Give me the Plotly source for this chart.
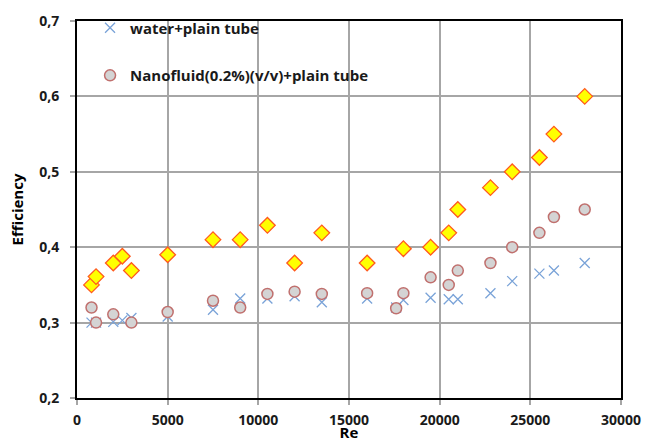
import plotly.graph_objects as go

# Reynolds numbers
re_water = [800, 1050, 2000, 2500, 3000, 5000, 7500, 9000, 10500, 12000, 13500,
            16000, 17600, 18000, 19500, 20500, 21000, 22800, 24000, 25500, 26300, 28000]
eff_water = [0.300, 0.300, 0.301, 0.303, 0.306, 0.308, 0.317, 0.332, 0.332, 0.335, 0.327,
             0.332, 0.320, 0.330, 0.333, 0.331, 0.331, 0.339, 0.355, 0.365, 0.369, 0.379]

re_nano = [800, 1050, 2000, 3000, 5000, 7500, 9000, 10500, 12000, 13500, 16000,
           17600, 18000, 19500, 20500, 21000, 22800, 24000, 25500, 26300, 28000]
eff_nano = [0.320, 0.300, 0.311, 0.300, 0.314, 0.329, 0.320, 0.338, 0.341, 0.338, 0.339,
            0.319, 0.339, 0.360, 0.350, 0.369, 0.379, 0.400, 0.419, 0.440, 0.450]

re_third = [800, 1050, 2000, 2500, 3000, 5000, 7500, 9000, 10500, 12000, 13500,
            16000, 18000, 19500, 20500, 21000, 22800, 24000, 25500, 26300, 28000]
eff_third = [0.350, 0.361, 0.379, 0.388, 0.369, 0.390, 0.410, 0.410, 0.429, 0.379, 0.419,
             0.379, 0.398, 0.400, 0.419, 0.450, 0.479, 0.500, 0.519, 0.550, 0.600]

x_ticks = [0, 5000, 10000, 15000, 20000, 25000, 30000]
y_ticks = [0.2, 0.3, 0.4, 0.5, 0.6, 0.7]

FONT = "Open Sans"

fig = go.Figure()
fig.add_trace(go.Scatter(
    x=re_water, y=eff_water, mode="markers", name="water+plain tube",
    legendgroup="a",
    marker=dict(symbol="x-thin-open", size=10, color="#7aa3d8",
                line=dict(width=1.3, color="#7aa3d8")),
))
fig.add_trace(go.Scatter(
    x=re_nano, y=eff_nano, mode="markers", name="Nanofluid(0.2%)(v/v)+plain tube",
    legendgroup="b",
    marker=dict(symbol="circle", size=11, color="#d4d4d4",
                line=dict(width=1.5, color="#c0706e")),
))
fig.add_trace(go.Scatter(
    x=re_third, y=eff_third, mode="markers", name="", showlegend=False,
    marker=dict(symbol="diamond", size=12, color="#ffff00",
                line=dict(width=1.3, color="#ff5a1e")),
))

axis_common = dict(
    showgrid=True, gridcolor="#a6a6a6", gridwidth=1.5,
    showline=True, linecolor="black", linewidth=2, mirror=True,
    ticks="outside", ticklen=5, tickcolor="#a6a6a6", tickwidth=1.5,
    zeroline=False, automargin=False,
    tickfont=dict(family=FONT, size=14, color="#1a1a1a", weight="bold"),
)

fig.update_xaxes(range=[0, 30000], tickvals=x_ticks, tickformat="d",
                 title=dict(text="<b>Re</b>", font=dict(family=FONT, size=15, color="black"),
                            standoff=0),
                 ticklabelstandoff=3, **axis_common)
fig.update_yaxes(range=[0.2, 0.7], tickvals=y_ticks, tickformat=".1f",
                 title=dict(text="<b>Efficiency</b>", font=dict(family=FONT, size=15, color="black"),
                            standoff=12),
                 ticklabelstandoff=8, **axis_common)

fig.update_layout(
    width=646, height=442,
    margin=dict(l=77, r=25, t=13, b=44),
    paper_bgcolor="white", plot_bgcolor="white",
    separators=", ",
    showlegend=True,
    legend=dict(
        x=0.024, y=1.025, xanchor="left", yanchor="top",
        bgcolor="rgba(0,0,0,0)", traceorder="grouped", tracegroupgap=25,
        font=dict(family=FONT, size=15, color="#1a1a1a", weight="bold"),
        itemwidth=30,
    ),
)

fig.write_html("out.html", config={"displayModeBar": False},
               post_script="document.body.style.margin='0px';")
